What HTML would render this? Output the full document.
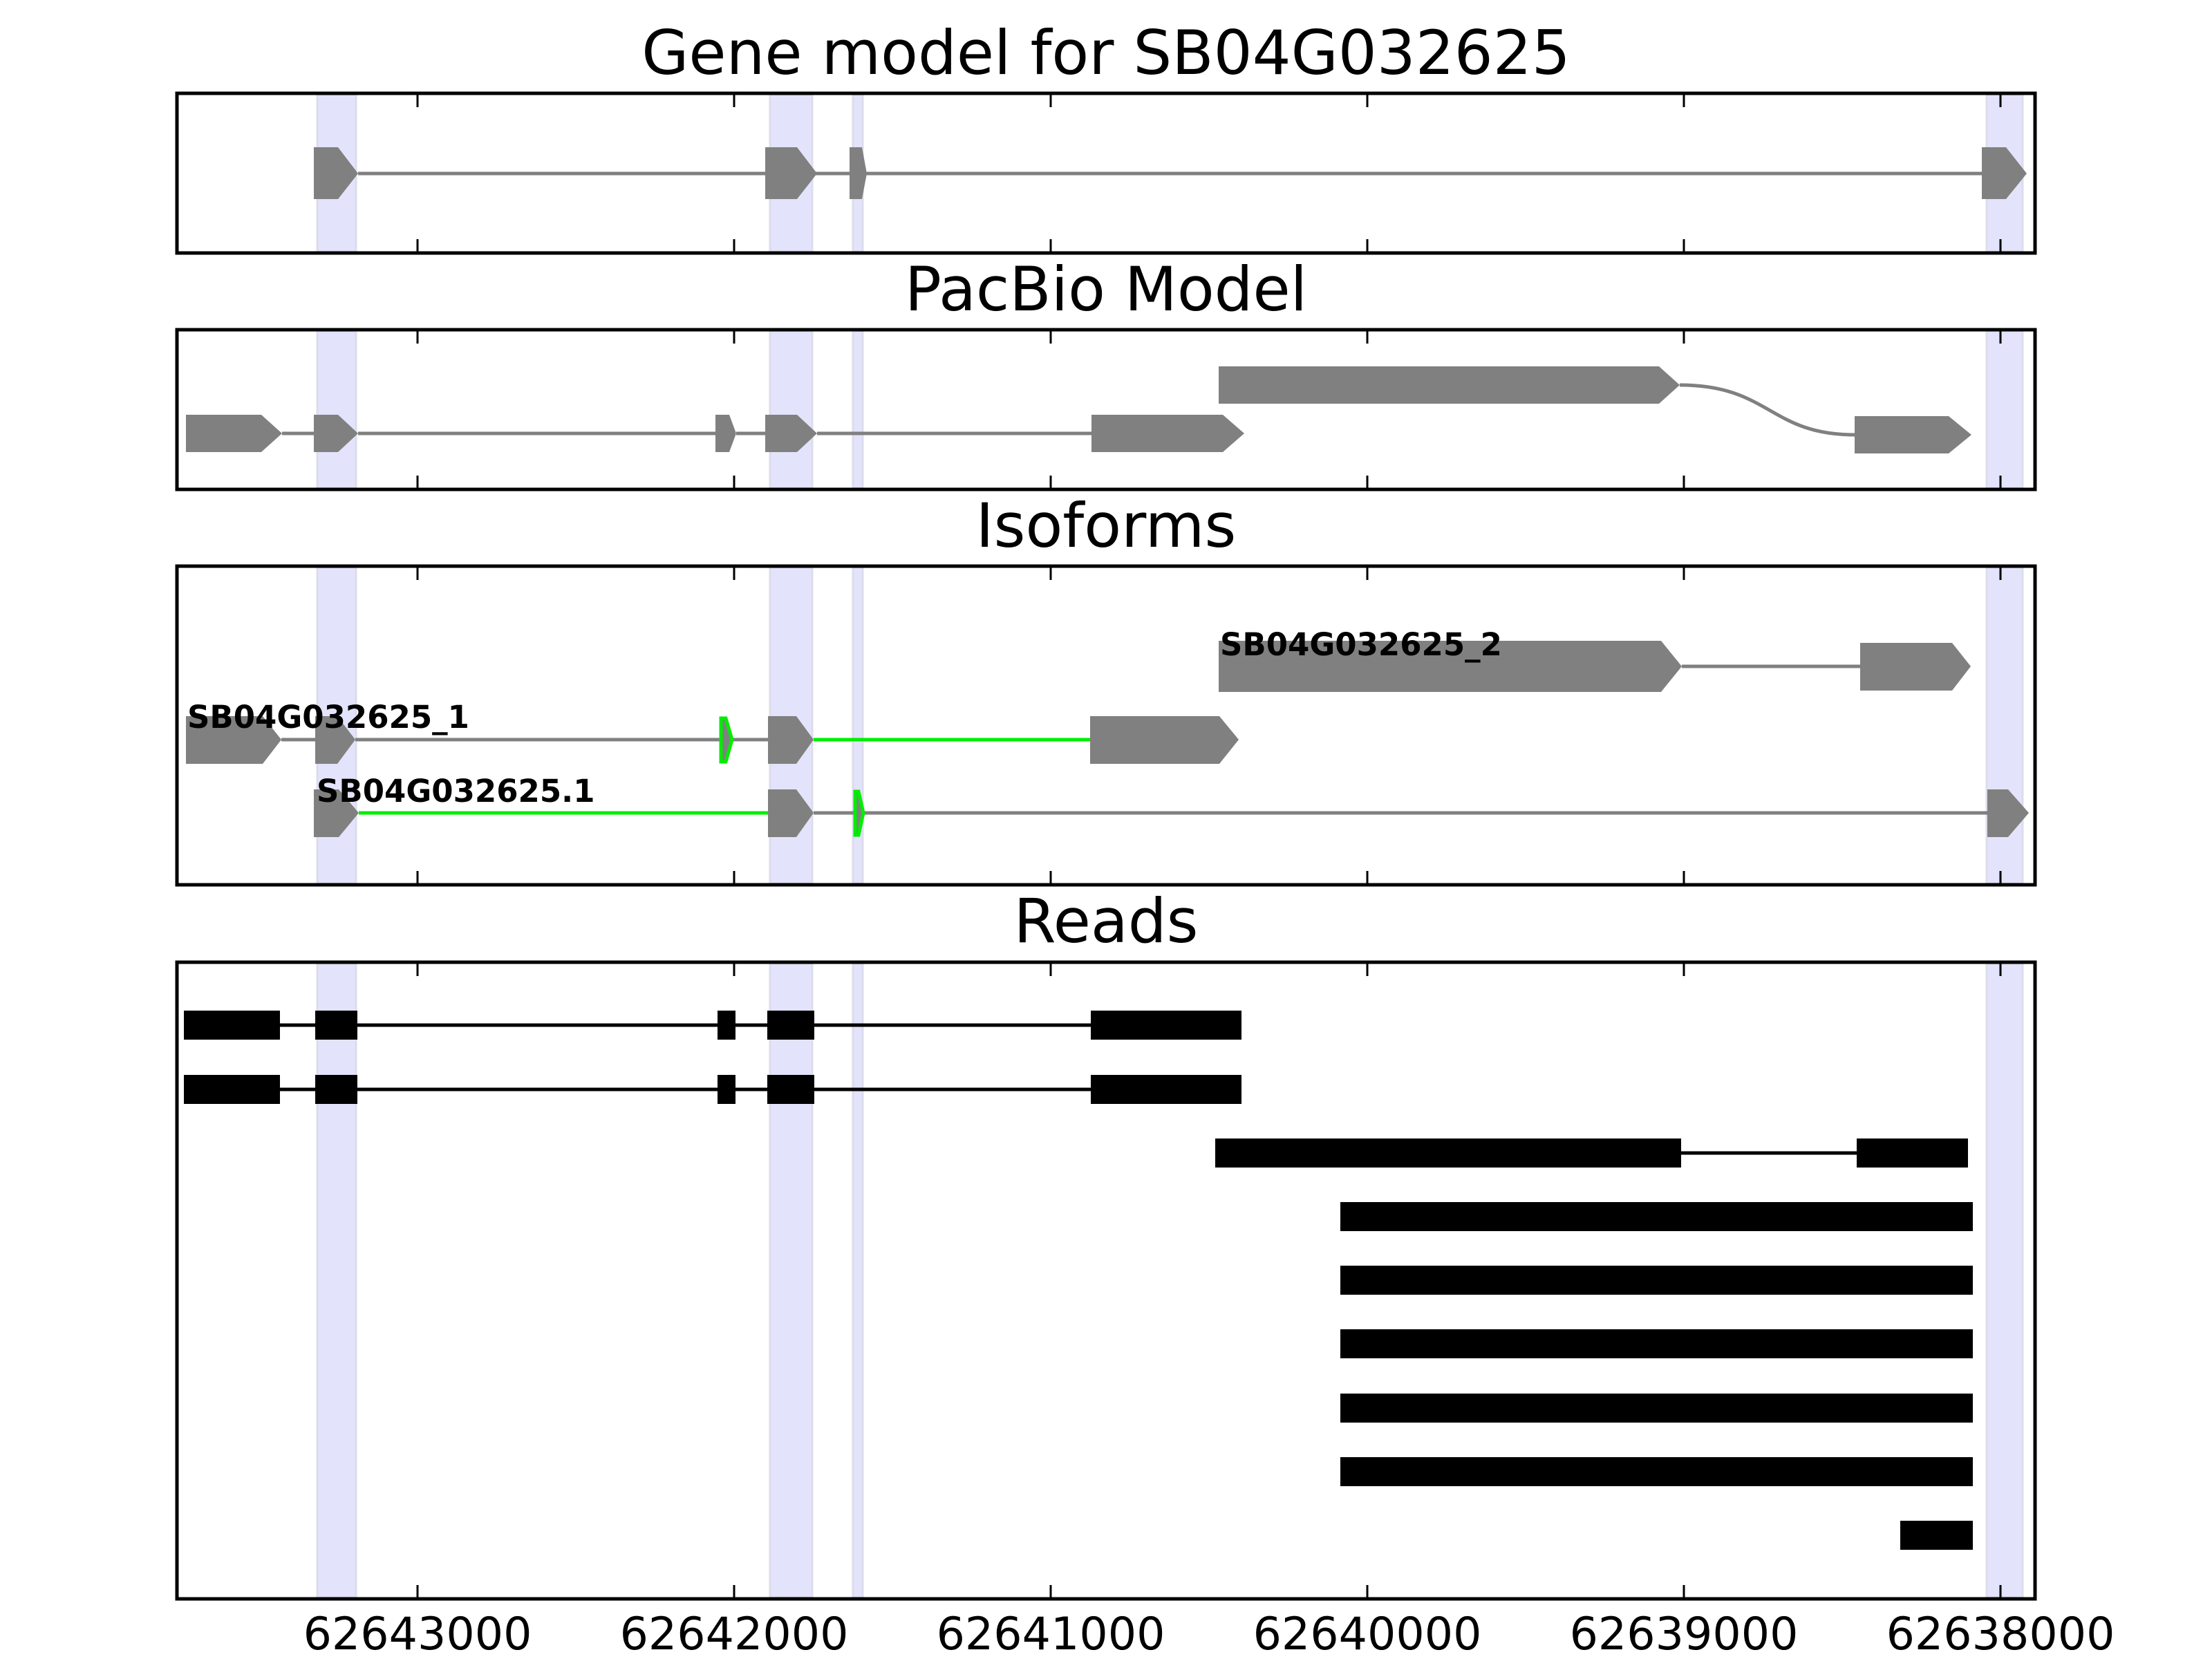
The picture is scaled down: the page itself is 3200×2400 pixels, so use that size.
<!DOCTYPE html>
<html><head><meta charset="utf-8"><style>html,body{margin:0;padding:0;background:#fff}svg{display:block}</style></head>
<body>
<svg width="3200" height="2400" viewBox="0 0 3200 2400" xmlns="http://www.w3.org/2000/svg" font-family="DejaVu Sans, Liberation Sans, sans-serif">
<rect width="3200" height="2400" fill="#fff"/>
<defs>
<g id="bands">
<rect x="458" y="0" width="57" height="10" fill="#e3e3fb" stroke="#dcdcec" stroke-width="3"/>
</g>
</defs>
<!-- Bands per panel -->
<g fill="#e3e3fb" stroke="#dcdcec" stroke-width="3">
<rect x="459" y="137" width="56" height="227"/><rect x="1114" y="137" width="61" height="227"/><rect x="1234" y="137" width="14" height="227"/><rect x="2874" y="137" width="52" height="227"/>
<rect x="459" y="479" width="56" height="227"/><rect x="1114" y="479" width="61" height="227"/><rect x="1234" y="479" width="14" height="227"/><rect x="2874" y="479" width="52" height="227"/>
<rect x="459" y="821" width="56" height="457"/><rect x="1114" y="821" width="61" height="457"/><rect x="1234" y="821" width="14" height="457"/><rect x="2874" y="821" width="52" height="457"/>
<rect x="459" y="1394" width="56" height="917"/><rect x="1114" y="1394" width="61" height="917"/><rect x="1234" y="1394" width="14" height="917"/><rect x="2874" y="1394" width="52" height="917"/>
</g>

<!-- Titles -->
<g font-size="88" text-anchor="middle" fill="#000">
<text x="1600" y="107">Gene model for SB04G032625</text>
<text x="1600" y="449">PacBio Model</text>
<text x="1600" y="791">Isoforms</text>
<text x="1600" y="1363">Reads</text>
</g>

<!-- Panel 1 -->
<g>
<line x1="518" y1="251" x2="2867" y2="251" stroke="#808080" stroke-width="5"/>
<g fill="#808080">
<polygon points="454,213 489,213 518,251 489,288 454,288"/>
<polygon points="1107,213 1153,213 1182,251 1153,288 1107,288"/>
<polygon points="1229,213 1247,213 1254,251 1247,288 1229,288"/>
<polygon points="2867,213 2902,213 2932,251 2902,288 2867,288"/>
</g>
</g>

<!-- Panel 2 -->
<g>
<g stroke="#808080" stroke-width="5" fill="none">
<line x1="408" y1="627" x2="454" y2="627"/>
<line x1="518" y1="627" x2="1035" y2="627"/>
<line x1="1065" y1="627" x2="1107" y2="627"/>
<line x1="1182" y1="627" x2="1579" y2="627"/>
<path d="M2430,557 C2560,557 2560,629 2683,629"/>
</g>
<g fill="#808080">
<polygon points="269,600 378,600 408,627 378,654 269,654"/>
<polygon points="454,600 489,600 518,627 489,654 454,654"/>
<polygon points="1035,600 1055,600 1065,627 1055,654 1035,654"/>
<polygon points="1107,600 1153,600 1182,627 1153,654 1107,654"/>
<polygon points="1579,600 1769,600 1800,627 1769,654 1579,654"/>
<polygon points="1763,530 2400,530 2430,557 2400,584 1763,584"/>
<polygon points="2683,602 2819,602 2852,629 2819,656 2683,656"/>
</g>
</g>

<!-- Panel 3 -->
<g>
<g stroke-width="5">
<line x1="2433" y1="964" x2="2691" y2="964" stroke="#808080"/>
<line x1="407" y1="1070" x2="456" y2="1070" stroke="#808080"/>
<line x1="514" y1="1070" x2="1041" y2="1070" stroke="#808080"/>
<line x1="1061" y1="1070" x2="1111" y2="1070" stroke="#808080"/>
<line x1="1177" y1="1070" x2="1577" y2="1070" stroke="#00ee00"/>
<line x1="519" y1="1176" x2="1111" y2="1176" stroke="#00ee00"/>
<line x1="1177" y1="1176" x2="1235" y2="1176" stroke="#808080"/>
<line x1="1250" y1="1176" x2="2875" y2="1176" stroke="#808080"/>
</g>
<g fill="#808080">
<polygon points="1763,927 2403,927 2433,964 2403,1001 1763,1001"/>
<polygon points="2691,930 2824,930 2851,964 2824,999 2691,999"/>
<polygon points="269,1036 380,1036 407,1070 380,1105 269,1105"/>
<polygon points="456,1036 488,1036 514,1070 488,1105 456,1105"/>
<polygon points="1111,1036 1152,1036 1177,1070 1152,1105 1111,1105"/>
<polygon points="1577,1036 1764,1036 1792,1070 1764,1105 1577,1105"/>
<polygon points="454,1142 490,1142 519,1176 490,1211 454,1211"/>
<polygon points="1111,1142 1152,1142 1177,1176 1152,1211 1111,1211"/>
<polygon points="2875,1142 2905,1142 2935,1176 2905,1211 2875,1211"/>
</g>
<g fill="#808080" stroke="#00ee00" stroke-width="5">
<polygon points="1043,1039 1050,1039 1059,1070 1050,1102 1043,1102"/>
<polygon points="1237,1145 1242,1145 1249,1176 1242,1208 1237,1208"/>
</g>
<g font-size="45" font-weight="bold" fill="#000">
<text x="1765" y="948">SB04G032625_2</text>
<text x="271" y="1053">SB04G032625_1</text>
<text x="458" y="1160">SB04G032625.1</text>
</g>
</g>

<!-- Panel 4 reads -->
<g fill="#000">
<g stroke="#000" stroke-width="5">
<line x1="405" y1="1483" x2="1578" y2="1483"/>
<line x1="405" y1="1576" x2="1578" y2="1576"/>
<line x1="2432" y1="1668" x2="2686" y2="1668"/>
</g>
<rect x="266" y="1462" width="139" height="42"/><rect x="456" y="1462" width="61" height="42"/><rect x="1038" y="1462" width="26" height="42"/><rect x="1110" y="1462" width="68" height="42"/><rect x="1578" y="1462" width="218" height="42"/>
<rect x="266" y="1555" width="139" height="42"/><rect x="456" y="1555" width="61" height="42"/><rect x="1038" y="1555" width="26" height="42"/><rect x="1110" y="1555" width="68" height="42"/><rect x="1578" y="1555" width="218" height="42"/>
<rect x="1758" y="1647" width="674" height="42"/><rect x="2686" y="1647" width="161" height="42"/>
<rect x="1939" y="1739" width="915" height="42"/>
<rect x="1939" y="1831" width="915" height="42"/>
<rect x="1939" y="1923" width="915" height="42"/>
<rect x="1939" y="2016" width="915" height="42"/>
<rect x="1939" y="2108" width="915" height="42"/>
<rect x="2749" y="2200" width="105" height="42"/>
</g>

<!-- Axes frames and ticks -->
<g fill="none" stroke="#000" stroke-width="5">
<rect x="256" y="135" width="2688" height="231"/>
<rect x="256" y="477" width="2688" height="231"/>
<rect x="256" y="819" width="2688" height="461"/>
<rect x="256" y="1392" width="2688" height="921"/>
</g>
<g stroke="#000" stroke-width="3">
<path d="M604,135v20M1062,135v20M1520,135v20M1978,135v20M2436,135v20M2894,135v20
M604,366v-20M1062,366v-20M1520,366v-20M1978,366v-20M2436,366v-20M2894,366v-20
M604,477v20M1062,477v20M1520,477v20M1978,477v20M2436,477v20M2894,477v20
M604,708v-20M1062,708v-20M1520,708v-20M1978,708v-20M2436,708v-20M2894,708v-20
M604,819v20M1062,819v20M1520,819v20M1978,819v20M2436,819v20M2894,819v20
M604,1280v-20M1062,1280v-20M1520,1280v-20M1978,1280v-20M2436,1280v-20M2894,1280v-20
M604,1392v20M1062,1392v20M1520,1392v20M1978,1392v20M2436,1392v20M2894,1392v20
M604,2313v-20M1062,2313v-20M1520,2313v-20M1978,2313v-20M2436,2313v-20M2894,2313v-20"/>
</g>
<g font-size="65" text-anchor="middle" fill="#000">
<text x="604" y="2386">62643000</text>
<text x="1062" y="2386">62642000</text>
<text x="1520" y="2386">62641000</text>
<text x="1978" y="2386">62640000</text>
<text x="2436" y="2386">62639000</text>
<text x="2894" y="2386">62638000</text>
</g>
</svg>
</body></html>
